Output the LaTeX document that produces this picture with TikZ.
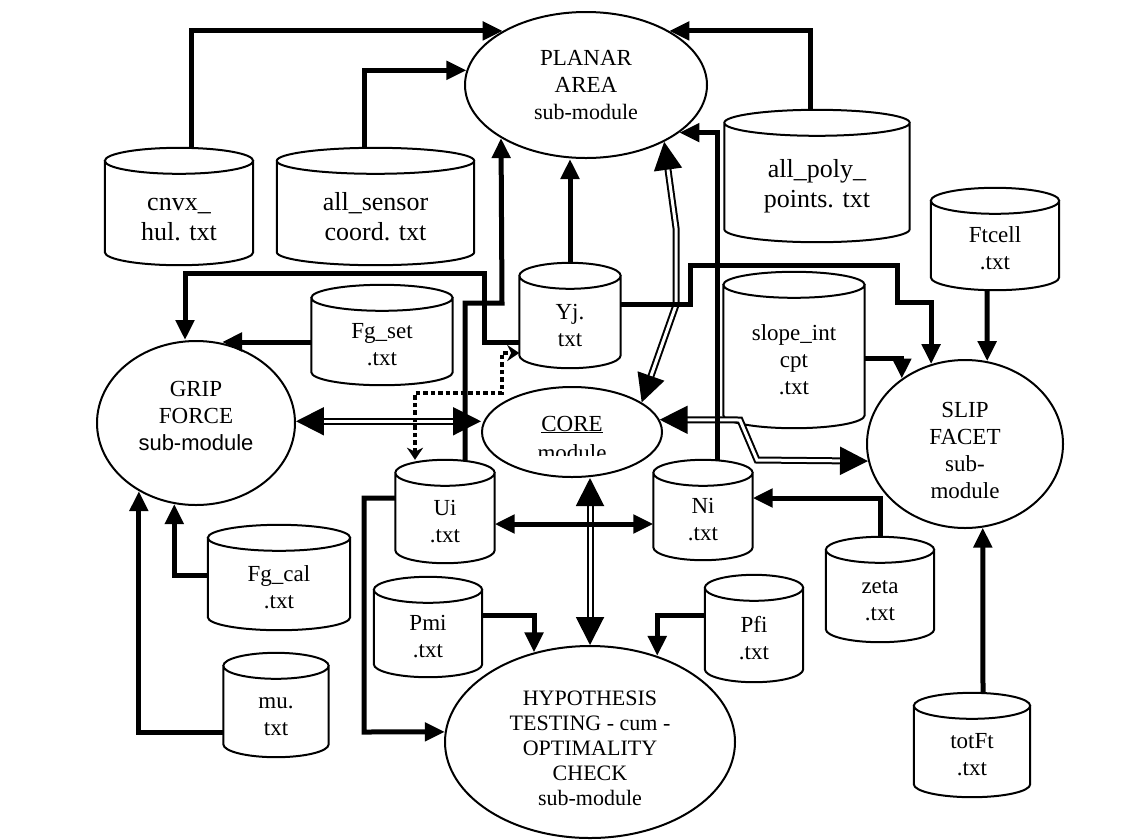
\documentclass[tikz,border=0pt]{standalone}
\usepackage{fontspec}
\setmainfont{Liberation Serif}
\setsansfont{Liberation Sans}
\usetikzlibrary{shapes.geometric}
\usetikzlibrary{arrows.meta}
\usetikzlibrary{calc}

\newcommand{\dbstrut}{\rule{0pt}{35pt}}
\newcommand{\bigdbstrut}{\rule{0pt}{38pt}}
\newcommand{\drawdb}[1]{%
  \draw[dbline] let \p1=(#1.north west), \p2=(#1.south east), \n1={(\x2-\x1)/2} in
    (\x1,\y1-13pt) -- (\x1,\y2+13pt)
    arc[start angle=180, end angle=360, x radius=\n1, y radius=13pt]
    -- (\x2,\y1-13pt)
    (\x1+\n1,\y1-13pt) ellipse[x radius=\n1, y radius=13pt];}

\begin{document}
\begin{tikzpicture}[x=1pt, y=1pt,
  module/.style={ellipse, draw, line width=2pt, inner sep=0pt, align=center, font=\fontsize{23}{27}\selectfont},
  dbfile/.style={rectangle, inner sep=0pt, align=center, font=\fontsize{23}{27}\selectfont},
  bigfile/.style={dbfile, font=\fontsize{26}{30}\selectfont},
  dbline/.style={line width=2pt},
  arr/.style={line width=5pt, -{Triangle[length=20pt,width=18pt]}},
  twoway/.style={line width=5pt, {Triangle[length=20pt,width=18pt]}-{Triangle[length=20pt,width=18pt]}},
  dblarr/.style={double, line width=2pt, double distance=3pt, {Triangle[length=28pt,width=28pt]}-{Triangle[length=28pt,width=28pt]}},
  dotarr/.style={line width=4.5pt, dash pattern=on 4.5pt off 3pt, {Stealth[length=12pt,width=16pt]}-{Stealth[length=12pt,width=16pt]}}]
  \fill[white] (0,0) rectangle (1140,-839);
  \useasboundingbox (0,0) rectangle (1140,-839);
  \node[module, minimum width=242pt, minimum height=146pt] (planar) at (586,-85) {PLANAR\\AREA\\{\fontsize{22}{26}\selectfont sub-module}};
  \node[module, minimum width=198pt, minimum height=164pt] (grip) at (196,-423) {GRIP\\FORCE\\{\sffamily\fontsize{22}{26}\selectfont sub-module}\rule[-14pt]{0pt}{14pt}};
  \node[module, minimum width=196pt, minimum height=168pt] (slip) at (965,-444) {\rule{0pt}{28pt}SLIP\\FACET\\sub-\\module};
  \node[module, minimum width=290pt, minimum height=192pt, font=\fontsize{22}{25}\selectfont] (hypo) at (590,-742) {\rule{0pt}{27.5pt}HYPOTHESIS\\TESTING - cum -\\OPTIMALITY\\CHECK\\sub-module};
  \node[module, minimum width=180pt, minimum height=90pt] (core) at (572,-432) {};
  \begin{scope}
    \clip ([yshift=-23pt]core.west) rectangle (core.north east);
    \node[align=center, font=\fontsize{23}{29}\selectfont] (coretext) at (572,-438) {\underline{CORE}\\module};
  \end{scope}
  \node[bigfile, minimum width=148pt, minimum height=117pt] (cnvx) at (179,-206.5) {\bigdbstrut cnvx\_\\hul. txt};
  \node[bigfile, minimum width=197pt, minimum height=117pt] (allsensor) at (375.5,-206.5) {\bigdbstrut all\_sensor\\coord. txt};
  \node[bigfile, minimum width=185pt, minimum height=132pt] (allpoly) at (817,-176) {\bigdbstrut all\_poly\_\\points. txt};
  \node[dbfile, minimum width=128pt, minimum height=102pt] (ftcell) at (995,-239) {\dbstrut Ftcell\\.txt};
  \node[dbfile, minimum width=141pt, minimum height=156pt] (slope) at (794,-350) {\dbstrut slope\_int\\cpt\\.txt};
  \node[dbfile, minimum width=101pt, minimum height=105pt] (yj) at (570,-315.5) {\dbstrut Yj.\\txt};
  \node[dbfile, minimum width=141pt, minimum height=100pt] (fgset) at (382,-335) {\dbstrut Fg\_set\\.txt};
  \node[dbfile, minimum width=99pt, minimum height=103pt] (ui) at (445,-511.5) {\dbstrut Ui\\.txt};
  \node[dbfile, minimum width=99pt, minimum height=100pt] (ni) at (703,-510) {\dbstrut Ni\\.txt};
  \node[dbfile, minimum width=142pt, minimum height=105pt] (fgcal) at (279,-577.5) {\dbstrut Fg\_cal\\.txt};
  \node[dbfile, minimum width=105pt, minimum height=104pt] (mu) at (276,-705) {\dbstrut mu.\\txt};
  \node[dbfile, minimum width=108pt, minimum height=100pt] (pmi) at (428,-627) {\dbstrut Pmi\\.txt};
  \node[dbfile, minimum width=98pt, minimum height=107pt] (pfi) at (754,-628.5) {\dbstrut Pfi\\.txt};
  \node[dbfile, minimum width=108pt, minimum height=105pt] (zeta) at (880,-589.5) {\dbstrut zeta\\.txt};
  \node[dbfile, minimum width=116pt, minimum height=104pt] (totft) at (972,-745) {\dbstrut totFt\\.txt};
  \foreach \db in {cnvx, allsensor, allpoly, ftcell, slope, yj, fgset, ui, ni, fgcal, mu, pmi, pfi, zeta, totft}
    \drawdb{\db};
  \draw[dblarr] (grip.1) -- (grip.1 -| core.west);
  \draw[dblarr] (core.8) -- (740,-420) -- (757,-460) -- (slip.190);
  \draw[dblarr] (planar.-36) -- (676,-228) -- (676,-305) -- (core.23);
  \draw[dblarr] (core.south -| hypo.north) -- (hypo.north);
  \draw[arr] ([xshift=12pt]cnvx.north) |- (planar.147);
  \draw[arr] ([xshift=-11.5pt]allsensor.north) |- (planar.173);
  \draw[arr] ([xshift=-7pt]allpoly.north) |- (planar.33);
  \draw[arr] ([xshift=14pt]ni.north) |- (planar.-27);
  \draw[arr] (yj.north) -- (yj.north |- planar.south);
  \draw[arr] ([xshift=20pt]ui.north) |- (502,-303) -- (planar.212);
  \draw[arr] ([yshift=-26.5pt]yj.west) -| (484,-273) -| ([xshift=-11pt]grip.north);
  \draw[arr] ([yshift=-7pt]fgset.west) -- ([yshift=-7pt]fgset.west -| grip.72);
  \draw[arr] ([yshift=2.5pt]fgcal.west) -| (grip.255);
  \draw[arr] ([yshift=-27pt]mu.west) -| (grip.230);
  \draw[arr] ([yshift=13.5pt]ui.west) -| (364,-732) -- (hypo.176);
  \draw[arr] ([yshift=12pt]pmi.east) -| (hypo.122);
  \draw[arr] ([yshift=13.5pt]pfi.west) -| (hypo.52);
  \draw[arr] (zeta.north) |- ([yshift=12pt]ni.east);
  \draw[arr] ([xshift=-8pt]ftcell.south) -- (slip.75);
  \draw[arr] ([xshift=11pt]totft.north) -- (slip.-78);
  \draw[arr] ([yshift=-8pt]slope.east) -| (slip.134);
  \draw[arr] ([yshift=11.5pt]yj.east) -| (690,-265) -| (897,-302) -| (slip.113);
  \draw[twoway] ([yshift=-12.5pt]ui.east) -- ([yshift=-14pt]ni.west);
  \draw[dotarr] ([xshift=-30pt]ui.north) |- (502,-393) |- ([yshift=-37.5pt]yj.west);
\end{tikzpicture}
\end{document}
